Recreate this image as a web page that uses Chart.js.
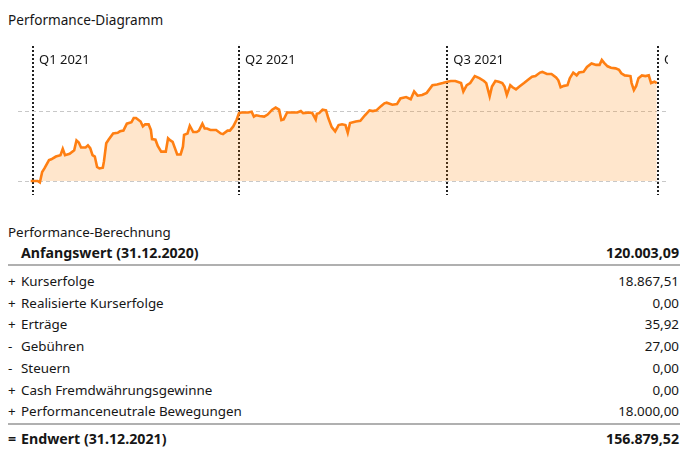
<!DOCTYPE html>
<html lang="de">
<head>
<meta charset="utf-8">
<title>Performance</title>
<script src="https://cdn.jsdelivr.net/npm/chart.js"></script>
<style>
    body { margin: 0; background: #fff; font-family: "Noto Sans", sans-serif; font-size: 13.4px; color: #161616; }
    #page { position: relative; width: 691px; height: 460px; overflow: hidden; }
    .txt { position: absolute; line-height: 22px; white-space: nowrap; }
    .row { position: absolute; left: 8px; width: 671px; height: 22px; line-height: 22px; display: flex; white-space: nowrap; }
    .row .sign { width: 13px; }
    .row .lbl { flex: 1; }
    .row .val { text-align: right; }
    .bold { font-weight: bold; font-size: 14.2px; }
    .sep { position: absolute; left: 8px; width: 672px; height: 2px; background: #b0b0b0; }
    #chartBox { position: absolute; left: 18px; top: 46px; width: 650px; height: 149px; }
</style>
</head>
<body>
<div id="page">
    <div class="txt" style="left:8px; top:9px; font-size:13.6px;">Performance-Diagramm</div>
    <div id="chartBox"><canvas id="perfChart"></canvas></div>
    <div class="txt" style="left:8px; top:221px;">Performance-Berechnung</div>
    <div id="table"></div>
</div>

<script>
// Days since 01.01.2021 and performance in percent
const days = [
    -1, 2, 3, 4, 5, 7, 8, 10, 12, 13, 14, 16, 18, 19, 20, 21, 23, 24, 25, 26,
    27, 28, 29, 30.5, 31, 32, 33, 35, 37, 38, 39.5, 41, 43, 44, 45, 47, 48, 49, 50.5, 51.5,
    52, 53.5, 54.5, 56, 58, 59, 60, 61, 62, 63, 64.5, 65.5, 66, 67.5, 68.5, 70, 71.5, 72.5, 74, 75,
    76, 77.5, 80, 82, 83, 85, 86, 87.5, 89, 90, 91, 94, 95.5, 96.5, 97.5, 99, 101, 102.5, 104.5, 106,
    107.5, 108.5, 109.5, 111, 113, 115.5, 117, 118, 121, 122, 123.5, 124, 125, 126.5, 128, 129, 130.5, 132, 133.5, 135,
    136.5, 137.5, 138.5, 141, 143, 145, 147, 148.5, 150, 152, 153.5, 154.5, 157, 159, 160.5, 163, 165, 166.5, 168, 170,
    172, 174.5, 176.5, 179, 181, 182.5, 184.5, 187, 188, 189.5, 191, 193, 195, 197, 198, 199.5, 200.5, 202, 203.5, 205,
    206, 207, 208.5, 209.5, 211, 212.5, 214.5, 216, 218, 219.5, 221.5, 222.5, 224.5, 226.5, 228.5, 229.5, 230.5, 232, 233.5, 234.5,
    236, 237.5, 238.5, 240.5, 242, 244, 246, 247.5, 248.5, 249.5, 251, 252.5, 254.5, 256, 257, 258.5, 261, 261.5, 262.5, 263.5,
    264.5, 266, 267.5, 269, 270, 271.5, 272.5
];
const performance = [
    0.0, 0.0, -0.2, 1.3, 1.8, 3.0, 3.1, 3.5, 3.7, 4.6, 3.7, 3.9, 4.4, 5.8, 5.5, 4.8, 4.8, 5.1, 4.7, 3.7,
    3.5, 2.0, 1.8, 1.9, 2.8, 5.4, 5.9, 6.8, 6.9, 7.1, 7.2, 8.2, 8.4, 9.0, 9.0, 8.5, 7.8, 8.1, 8.1, 7.3,
    6.0, 5.9, 5.0, 4.2, 4.2, 6.1, 5.8, 5.6, 4.7, 3.8, 3.8, 4.9, 6.6, 6.8, 7.9, 7.0, 7.0, 7.2, 8.2, 7.5,
    7.5, 7.3, 7.3, 6.8, 6.7, 7.2, 7.2, 7.8, 8.8, 9.7, 9.8, 9.8, 9.9, 9.2, 9.4, 9.3, 9.2, 9.5, 10.2, 10.5,
    10.2, 8.7, 8.8, 9.8, 9.8, 9.8, 10.0, 9.7, 9.8, 9.7, 8.8, 9.6, 9.7, 10.2, 10.1, 9.0, 7.7, 7.1, 8.0, 8.1,
    8.0, 6.9, 8.3, 8.5, 8.6, 9.4, 10.1, 10.0, 10.1, 10.7, 11.1, 11.2, 10.9, 11.0, 11.8, 12.0, 11.7, 12.8, 12.2, 12.3,
    12.6, 13.7, 13.8, 14.0, 14.2, 14.3, 14.3, 14.0, 12.8, 13.7, 14.0, 15.0, 14.7, 14.3, 14.0, 12.1, 13.5, 14.3, 14.2, 14.0,
    13.5, 12.3, 13.7, 13.4, 13.1, 13.5, 14.0, 14.4, 14.9, 15.0, 15.5, 15.6, 15.3, 15.3, 14.8, 14.4, 13.4, 13.6, 13.7, 14.7,
    15.5, 15.1, 15.5, 15.6, 16.3, 16.8, 16.6, 16.6, 17.3, 16.9, 16.4, 16.2, 16.1, 15.9, 15.4, 15.1, 15.0, 14.0, 13.0, 13.6,
    14.7, 15.1, 15.0, 15.1, 14.0, 14.2, 14.0
];

// Quarter starts (days) and their labels
const quarterDays = [0, 90, 181, 273];
const quarterLabels = ['Q1 2021', 'Q2 2021', 'Q3 2021', 'Q4 2021'];
const gridValues = [0, 10];

// Calculation table
const calcSigns = ['+', '+', '+', '-', '-', '+', '+'];
const calcLabels = ['Kurserfolge', 'Realisierte Kurserfolge', 'Erträge', 'Gebühren', 'Steuern',
    'Cash Fremdwährungsgewinne', 'Performanceneutrale Bewegungen'];
const calcValues = ['18.867,51', '0,00', '35,92', '27,00', '0,00', '0,00', '18.000,00'];
const startLabel = 'Anfangswert (31.12.2020)';
const startValue = '120.003,09';
const endLabel = 'Endwert (31.12.2021)';
const endValue = '156.879,52';

document.addEventListener('DOMContentLoaded', () => {

    // Build the table below the chart
    const table = document.getElementById('table');
    function addRow(top, sign, label, value, bold) {
        const row = document.createElement('div');
        row.className = 'row' + (bold ? ' bold' : '');
        row.style.top = top + 'px';
        row.innerHTML = `<span class="sign">${sign}</span><span class="lbl">${label}</span><span class="val">${value}</span>`;
        table.appendChild(row);
    }
    function addSep(top) {
        const s = document.createElement('div');
        s.className = 'sep';
        s.style.top = top + 'px';
        table.appendChild(s);
    }

    addRow(242, '', startLabel, startValue, true);
    addSep(264);
    calcLabels.forEach((lbl, i) => addRow(270 + i * 21.7, calcSigns[i], lbl, calcValues[i], false));
    addSep(423);
    addRow(428, '=', endLabel, endValue, true);

    // Quarter labels next to the dashed lines
    const quarterText = {
        id: 'quarterText',
        afterDraw(chart) {
            const ctx = chart.ctx;
            const x = chart.scales.x;
            ctx.save();
            ctx.fillStyle = '#161616';
            ctx.font = '13px "Noto Sans"';
            ctx.textBaseline = 'middle';
            quarterDays.forEach((d, i) => {
                ctx.fillText(quarterLabels[i], x.getPixelForValue(d) + 6, chart.chartArea.top + 14);
            });
            ctx.restore();
        }
    };

    const points = days.map((d, i) => ({ x: d, y: performance[i] }));

    new Chart(document.getElementById('perfChart'), {
        type: 'line',
        data: {
            datasets: [{
                data: points,
                borderColor: '#ff7f12',
                backgroundColor: 'rgba(255, 128, 0, 0.2)',
                borderWidth: 2.6,
                pointRadius: 0,
                tension: 0,
                fill: 'origin'
            }]
        },
        options: {
            responsive: true,
            maintainAspectRatio: false,
            animation: false,
            layout: { padding: 0 },
            plugins: { legend: { display: false }, tooltip: { enabled: false } },
            scales: {
                x: {
                    type: 'linear',
                    min: -6.55,
                    max: 277.4,
                    afterBuildTicks: (axis) => { axis.ticks = quarterDays.map(v => ({ value: v })); },
                    ticks: { display: false },
                    grid: { color: '#202020', lineWidth: 2, drawTicks: false },
                    border: { display: false, dash: [2, 2] }
                },
                y: {
                    min: -2,
                    max: 19.3,
                    afterBuildTicks: (axis) => { axis.ticks = gridValues.map(v => ({ value: v })); },
                    ticks: { display: false },
                    grid: { color: '#c8c8c8', lineWidth: 1, drawTicks: false },
                    border: { display: false, dash: [4, 3] }
                }
            }
        },
        plugins: [quarterText]
    });
});
</script>
</body>
</html>
